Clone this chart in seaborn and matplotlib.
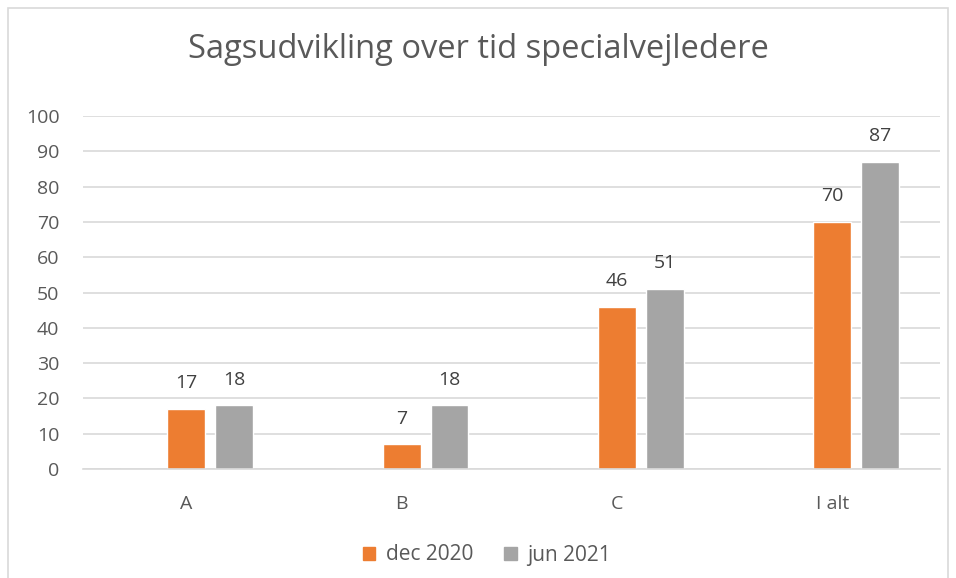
import numpy as np
import pandas as pd
import matplotlib
matplotlib.use("Agg")
import matplotlib.pyplot as plt
import matplotlib.patches as mpatches
import seaborn as sns

# ── Data ──────────────────────────────────────────────────────────────────────
categories = ["A", "B", "C", "I alt"]
dec_2020   = [17, 7, 46, 70]
jun_2021   = [18, 18, 51, 87]
series     = ["dec 2020", "jun 2021"]
y_ticks    = list(range(0, 101, 10))

ORANGE = "#ED7D31"
GREY   = "#A5A5A5"
TEXT   = "#595959"
GRID   = "#D9D9D9"

# Excel chart has an empty leading series, which shifts the groups right
df = pd.DataFrame({
    "kategori": categories * 3,
    "serie":    [" "] * 4 + [series[0]] * 4 + [series[1]] * 4,
    "antal":    [0] * 4 + dec_2020 + jun_2021,
})

sns.set_theme(style="white")
plt.rcParams["font.family"] = ["Open Sans", "DejaVu Sans"]

fig = plt.figure(figsize=(9.56, 5.78), dpi=100)
ax = fig.add_axes([83 / 956, 1 - 469 / 578, (940 - 83) / 956, (469 - 116) / 578])

sns.barplot(
    data=df, x="kategori", y="antal", hue="serie",
    hue_order=[" "] + series, palette=["white", ORANGE, GREY],
    width=0.667, gap=0.21, saturation=1, ax=ax, legend=False,
)

for cont in ax.containers[1:]:
    ax.bar_label(cont, padding=12, fontsize=14, color="#404040")

ax.set_ylim(0, 100)
ax.set_xlim(-0.48, 3.5)
ax.set_yticks(y_ticks)
ax.set_xlabel("")
ax.set_ylabel("")
ax.grid(axis="y", color=GRID, linewidth=1.2)
ax.set_axisbelow(True)
for side in ["left", "right", "top"]:
    ax.spines[side].set_visible(False)
ax.spines["bottom"].set_color(GRID)
ax.spines["bottom"].set_linewidth(1.2)
ax.tick_params(axis="both", colors=TEXT, labelsize=14, length=0)
ax.tick_params(axis="y", pad=17)
ax.tick_params(axis="x", pad=19)

fig.text(0.5, 1 - 50 / 578, "Sagsudvikling over tid specialvejledere",
         ha="center", va="center", fontsize=23.5, color=TEXT)

handles = [mpatches.Patch(color=ORANGE, label=series[0]),
           mpatches.Patch(color=GREY, label=series[1])]
fig.legend(handles=handles, loc="center", bbox_to_anchor=(487 / 956, 1 - 555 / 578),
           ncol=2, frameon=False, fontsize=15, labelcolor=TEXT,
           handlelength=0.6, handleheight=0.6, handletextpad=0.5,
           columnspacing=1.5)

# outer chart-area border
fig.patches.append(mpatches.Rectangle(
    (8 / 956, -0.05), (948 - 8) / 956, 1.05 - 8 / 578,
    transform=fig.transFigure, fill=False, edgecolor=GRID, linewidth=1.2))

fig.savefig("out.png", dpi=100)
plt.close(fig)
